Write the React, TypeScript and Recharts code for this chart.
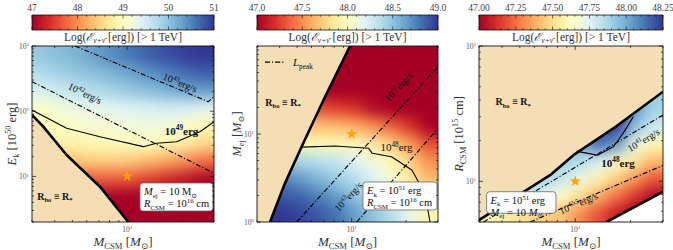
import React from 'react';
import { ComposedChart, XAxis, YAxis, Scatter, Line, Area, ReferenceArea, ReferenceDot, Symbols } from 'recharts';

const SERIF = "'Liberation Serif','DejaVu Serif',serif";
const CHART_H = 250;
const M_TOP = 46;
const M_BOTTOM = 28;
const WHEAT = '#f5deb3';
const RDYLBU = ['#a50026', '#d73027', '#f46d43', '#fdae61', '#fee090', '#ffffbf', '#e0f3f8', '#abd9e9', '#74add1', '#4575b4', '#313695'];

// ---------- shared x axis (M_CSM) ----------
const MCSM_DOMAIN = [3, 30];
const MCSM_TICKS = [3, 4, 5, 6, 7, 8, 9, 10, 20, 30];
const MCSM_LABELED = [10];
const HEAT_X = [3.37, 4.24, 5.34, 6.72, 8.46, 10.65, 13.4, 16.9, 21.3, 26.8];

// ---------- panel 1 : E_k vs M_CSM ----------
const EK_DOMAIN = [2, 1000];
const EK_TICKS = [2, 3, 4, 5, 6, 7, 8, 9, 10, 20, 30, 40, 50, 60, 70, 80, 90, 100, 200, 300, 400, 500, 600, 700, 800, 900, 1000];
const EK_LABELED = [10, 100, 1000];
const EK_HEAT_Y = [2.73, 5.08, 9.46, 17.6, 32.8, 61.1, 113.8, 211.8, 394.5, 734.5];
const EK_HEAT = [
  [46.8, 46.8, 46.8, 46.8, 46.8, 46.8, 46.8, 46.8, 46.8, 46.8],
  [47.1, 47.1, 47.05, 47.0, 46.95, 46.9, 46.85, 46.8, 46.8, 46.8],
  [47.65, 47.65, 47.7, 47.7, 47.7, 47.65, 47.5, 47.35, 47.2, 47.05],
  [48.35, 48.35, 48.4, 48.45, 48.45, 48.4, 48.3, 48.15, 48.0, 47.8],
  [48.75, 48.8, 48.85, 48.9, 48.95, 48.97, 48.97, 48.9, 48.75, 48.55],
  [48.9, 49.0, 49.08, 49.12, 49.15, 49.18, 49.2, 49.18, 49.08, 48.92],
  [49.02, 49.15, 49.25, 49.3, 49.35, 49.4, 49.45, 49.5, 49.45, 49.35],
  [49.45, 49.55, 49.65, 49.75, 49.85, 49.95, 50.05, 50.15, 50.25, 50.3],
  [49.75, 49.85, 49.95, 50.05, 50.15, 50.27, 50.4, 50.52, 50.65, 50.75],
  [49.95, 50.05, 50.15, 50.3, 50.45, 50.6, 50.75, 50.85, 50.95, 51.0],
];
const EK_BOUNDARY = [[3, 87.5], [3.46, 58], [4.65, 21.3], [7.09, 6.96], [10.14, 2]];
const EK_CONTOUR_49 = [[3, 104], [4.65, 54.7], [7.09, 40.6], [12.27, 28.6], [14.5, 32.2], [18.7, 34.1], [25.1, 48.5], [30, 69]];
const EK_LPEAK_43 = [[5.17, 1000], [27.9, 140], [30, 167]];
const EK_LPEAK_42 = [[3, 284], [30, 11.2]];
const EK_BOX = { x1: 11.76, x2: 29.6, y1: 2.95, y2: 7.93 };

// ---------- panel 2 : M_ej vs M_CSM ----------
const MEJ_DOMAIN = [1, 100];
const MEJ_TICKS = [1, 2, 3, 4, 5, 6, 7, 8, 9, 10, 20, 30, 40, 50, 60, 70, 80, 90, 100];
const MEJ_LABELED = [1, 10];
const MEJ_HEAT_Y = [1.26, 2.0, 3.16, 5.01, 7.94, 12.6, 19.95, 31.6, 50.1, 79.4];
const MEJ_HEAT = [
  [49.0, 49.0, 48.95, 48.9, 48.8, 48.65, 48.5, 48.35, 48.15, 47.95],
  [48.9, 48.9, 48.85, 48.75, 48.65, 48.5, 48.35, 48.2, 48.0, 47.8],
  [48.75, 48.75, 48.65, 48.55, 48.45, 48.35, 48.2, 48.05, 47.85, 47.65],
  [48.5, 48.45, 48.4, 48.35, 48.3, 48.2, 48.08, 47.95, 47.75, 47.5],
  [48.0, 48.0, 47.97, 47.97, 47.96, 47.95, 47.85, 47.72, 47.55, 47.3],
  [47.7, 47.7, 47.7, 47.68, 47.65, 47.6, 47.5, 47.35, 47.2, 47.0],
  [47.4, 47.4, 47.35, 47.3, 47.25, 47.2, 47.05, 46.95, 46.85, 46.8],
  [47.0, 47.0, 47.0, 46.95, 46.9, 46.85, 46.8, 46.8, 46.8, 46.8],
  [46.8, 46.8, 46.8, 46.8, 46.8, 46.8, 46.8, 46.8, 46.8, 46.8],
  [46.8, 46.8, 46.8, 46.8, 46.8, 46.8, 46.8, 46.8, 46.8, 46.8],
];
const MEJ_WHEAT = [[3, 1], [3.54, 1], [4.28, 2.75], [5.3, 7.2], [7.13, 26.5], [9.8, 100]];
const MEJ_BOUNDARY = [[3.54, 1], [4.28, 2.75], [5.3, 7.2], [7.13, 26.5], [9.8, 100]];
const MEJ_CONTOUR_48 = [[5.3, 7.1], [8.1, 7.3], [12.4, 6.88], [13.0, 6.03], [16.6, 5.52], [21.5, 3.9], [25.4, 2.12], [27.1, 1]];
const MEJ_LPEAK_A = [[4.97, 1], [30, 58.2]];
const MEJ_LPEAK_B = [[10.67, 1], [30, 11.6]];
const MEJ_BOX = { x1: 11.55, x2: 29.6, y1: 1.37, y2: 2.85 };

// ---------- panel 3 : R_CSM vs M_CSM ----------
const RCSM_DOMAIN = [5, 100];
const RCSM_TICKS = [5, 6, 7, 8, 9, 10, 20, 30, 40, 50, 60, 70, 80, 90, 100];
const RCSM_LABELED = [10, 100];
const RCSM_HEAT_Y = [5.81, 7.84, 10.58, 14.27, 19.26, 25.98, 35.06, 47.3, 63.8, 86.1];
const RCSM_HEAT = [
  [47.6, 47.55, 47.5, 47.45, 47.43, 47.31, 47.19, 47.07, 46.94, 46.82],
  [47.9, 47.9, 47.85, 47.75, 47.63, 47.5, 47.38, 47.26, 47.14, 47.02],
  [47.9, 47.9, 47.9, 47.87, 47.82, 47.7, 47.58, 47.46, 47.33, 47.21],
  [47.9, 47.9, 47.9, 47.9, 47.9, 47.86, 47.77, 47.65, 47.53, 47.41],
  [47.9, 47.9, 47.9, 47.9, 47.95, 47.98, 48.15, 48.05, 47.72, 47.6],
  [47.9, 47.9, 47.9, 47.9, 47.95, 48.0, 48.2, 48.3, 47.95, 47.8],
  [47.9, 47.9, 47.9, 47.9, 47.95, 48.0, 48.2, 48.3, 48.05, 47.89],
  [47.9, 47.9, 47.9, 47.9, 47.95, 48.0, 48.2, 48.3, 48.05, 47.9],
  [47.9, 47.9, 47.9, 47.9, 47.95, 48.0, 48.2, 48.3, 48.05, 47.9],
  [47.9, 47.9, 47.9, 47.9, 47.95, 48.0, 48.2, 48.3, 48.05, 47.9],
];
const RCSM_UPPER = [[3, 5.17], [7.3, 11.1], [9.77, 15.6], [16.8, 25.6], [30, 45.9]];
const RCSM_LOWER = [[14.8, 5], [30, 8.37]];
const RCSM_CONTOUR_48 = [[10.2, 16.7], [10.6, 16.5], [13.2, 15.6], [16.1, 18.0], [18.2, 22.6], [20.7, 30.0]];
const RCSM_LPEAK_41 = [[3.17, 5], [30, 30.9]];
const RCSM_LPEAK_425 = [[5.68, 5], [30, 13.1]];
const RCSM_BOX = { x1: 3.3, x2: 7.86, y1: 5.8, y2: 8.37 };

// ---------- colour bars ----------
const CB1_MAJOR = [47, 48, 49, 50, 51];
const CB2_MAJOR = [47.0, 47.5, 48.0, 48.5, 49.0];
const CB3_MAJOR = [47.0, 47.25, 47.5, 47.75, 48.0, 48.25];

type Seg = { t: string; s?: 'sup' | 'sub'; i?: boolean; b?: boolean };
const sup = (t: string): Seg => ({ t, s: 'sup' });
const sub = (t: string, i = false): Seg => ({ t, s: 'sub', i });

const P1_TEXTS = [
  { x: 19.5, y: 274, rot: 22, size: 10, bold: false, segs: [{ t: '10' }, sup('43'), { t: 'erg/s' }] },
  { x: 5.86, y: 188, rot: 26, size: 10, bold: false, segs: [{ t: '10' }, sup('42'), { t: 'erg/s' }] },
  { x: 19.9, y: 50.3, rot: 0, size: 11, bold: true, segs: [{ t: '10' }, sup('49'), { t: 'erg' }] },
  { x: 4.01, y: 5.0, rot: 0, size: 10, bold: true, segs: [{ t: 'R' }, sub('bo'), { t: ' ≡ R' }, sub('*')] },
];
const P2_TEXTS = [
  { x: 18.1, y: 34.5, rot: -47, size: 10, bold: false, segs: [{ t: '10' }, sup('42'), { t: 'erg/s' }] },
  { x: 9.59, y: 1.94, rot: -47, size: 10, bold: false, segs: [{ t: '10' }, sup('43'), { t: 'erg/s' }] },
  { x: 17.7, y: 7.06, rot: 0, size: 11, bold: false, segs: [{ t: '10' }, sup('48'), { t: 'erg' }] },
  { x: 4.18, y: 23.1, rot: 0, size: 10, bold: true, segs: [{ t: 'R' }, sub('bo'), { t: ' ≡ R' }, sub('*')] },
];
const P3_TEXTS = [
  { x: 23.5, y: 20.2, rot: -31, size: 10, bold: false, segs: [{ t: '10' }, sup('41'), { t: 'erg/s' }] },
  { x: 10.4, y: 6.87, rot: -23, size: 10, bold: false, segs: [{ t: '10' }, sup('42.5'), { t: 'erg/s' }] },
  { x: 17.1, y: 13.7, rot: 0, size: 11, bold: true, segs: [{ t: '10' }, sup('48'), { t: 'erg' }] },
  { x: 4.6, y: 38.7, rot: 0, size: 10, bold: true, segs: [{ t: 'R' }, sub('bo'), { t: ' ≡ R' }, sub('*')] },
];

const MSUN_TITLE: Seg[] = [{ t: 'M', i: true }, sub('CSM'), { t: ' [' }, { t: 'M', i: true }, sub('⊙'), { t: ']' }];
const EK_TITLE: Seg[] = [{ t: 'E', i: true }, sub('k'), { t: ' [10' }, sup('50'), { t: ' erg]' }];
const MEJ_TITLE: Seg[] = [{ t: 'M', i: true }, sub('ej'), { t: ' [' }, { t: 'M', i: true }, sub('⊙'), { t: ']' }];
const RCSM_TITLE: Seg[] = [{ t: 'R', i: true }, sub('CSM'), { t: ' [10' }, sup('15'), { t: ' cm]' }];
const CB_TITLE: Seg[] = [{ t: 'Log(' }, { t: 'ℰ', i: true }, sub('ν+ν̄', true), { t: ' [erg]) [> 1 TeV]' }];

const LINE_MEJ: Seg[] = [{ t: 'M', i: true }, sub('ej'), { t: ' = 10 M' }, sub('⊙')];
const LINE_MEJ_I: Seg[] = [{ t: 'M', i: true }, sub('ej'), { t: ' = 10 ' }, { t: 'M', i: true }, sub('⊙')];
const LINE_RCSM: Seg[] = [{ t: 'R', i: true }, sub('CSM'), { t: ' = 10' }, sup('16'), { t: ' cm' }];
const LINE_EK: Seg[] = [{ t: 'E', i: true }, sub('k'), { t: ' = 10' }, sup('51'), { t: ' erg' }];

// ---------- helpers ----------
function rich(segs: Seg[], size: number) {
  let cur = 0;
  return segs.map((sg, k) => {
    const target = sg.s === 'sup' ? -0.38 * size : sg.s === 'sub' ? 0.25 * size : 0;
    const dy = target - cur;
    cur = target;
    const p: any = { key: k, dy, fontSize: sg.s ? size * 0.66 : size };
    if (sg.i) p.fontStyle = 'italic';
    if (sg.b) p.fontWeight = 'bold';
    return <tspan {...p}>{sg.t}</tspan>;
  });
}

function hexRgb(h: string) {
  return [parseInt(h.slice(1, 3), 16), parseInt(h.slice(3, 5), 16), parseInt(h.slice(5, 7), 16)];
}
function cmap(v: number, lo: number, hi: number) {
  let t = (v - lo) / (hi - lo);
  t = Math.max(0, Math.min(1, t));
  const f = t * 10;
  const i = Math.min(9, Math.floor(f));
  const r = f - i;
  const a = hexRgb(RDYLBU[i]);
  const b = hexRgb(RDYLBU[i + 1]);
  return `rgb(${a.map((c, k) => Math.round(c + (b[k] - c) * r)).join(',')})`;
}
function pts(arr: number[][]) {
  return arr.map(([x, y]) => ({ x, y }));
}
function subdivide(majors: number[], n: number) {
  const out: number[] = [];
  for (let k = 0; k < majors.length - 1; k++) {
    for (let j = 0; j < n; j++) out.push(+(majors[k] + ((majors[k + 1] - majors[k]) * j) / n).toFixed(4));
  }
  out.push(majors[majors.length - 1]);
  return out;
}
function cells(xs: number[], ys: number[], grid: number[][]) {
  const out: any[] = [];
  ys.forEach((y, j) => xs.forEach((x, i) => out.push({ x, y, v: grid[j][i] })));
  return out;
}
const isIn = (arr: number[], v: number) => arr.some((m) => Math.abs(m - v) < 1e-6);
const expLabel = (v: number): Seg[] => [{ t: '10' }, sup(String(Math.round(Math.log10(v))))];

const makeXTick = (labeled: number[], side: 'b' | 't') => (props: any) => {
  const { x, y, payload } = props;
  const major = isIn(labeled, payload.value);
  const len = major ? 4 : 2;
  const dir = side === 'b' ? -1 : 1;
  return (
    <g>
      <line x1={x} y1={y} x2={x} y2={y + dir * len} stroke="#111" strokeWidth={0.7} />
      {side === 'b' && major && (
        <text x={x} y={y + 10} textAnchor="middle" fontFamily={SERIF} fill="#555">
          {rich(expLabel(payload.value), 7.5)}
        </text>
      )}
    </g>
  );
};
const makeYTick = (labeled: number[], side: 'l' | 'r') => (props: any) => {
  const { x, y, payload } = props;
  const major = isIn(labeled, payload.value);
  const len = major ? 4 : 2;
  const dir = side === 'l' ? 1 : -1;
  return (
    <g>
      <line x1={x} y1={y} x2={x + dir * len} y2={y} stroke="#111" strokeWidth={0.7} />
      {side === 'l' && major && (
        <text x={x - 3} y={y + 3} textAnchor="end" fontFamily={SERIF} fill="#555">
          {rich(expLabel(payload.value), 7.5)}
        </text>
      )}
    </g>
  );
};

const textShape = (segs: Seg[], size: number, rot: number, bold: boolean) => (p: any) => (
  <text
    x={p.cx}
    y={p.cy + size * 0.35}
    textAnchor="middle"
    fontFamily={SERIF}
    fontWeight={bold ? 'bold' : 'normal'}
    fill="#111"
    transform={rot ? `rotate(${rot} ${p.cx} ${p.cy})` : undefined}
  >
    {rich(segs, size)}
  </text>
);

const boxShape = (l1: Seg[], l2: Seg[]) => (p: any) => (
  <g>
    <rect x={p.x} y={p.y} width={p.width} height={p.height} rx={3} fill="#fff" stroke="#666" strokeWidth={0.8} />
    <text x={p.x + 4} y={p.y + 12} fontFamily={SERIF} fill="#111">{rich(l1, 10.5)}</text>
    <text x={p.x + 4} y={p.y + 24} fontFamily={SERIF} fill="#111">{rich(l2, 10.5)}</text>
  </g>
);

const starShape = (p: any) => <Symbols cx={p.cx} cy={p.cy} type="star" size={38} fill="#ffa000" stroke="none" />;

const legendShape = (p: any) => (
  <g>
    <line x1={p.cx} y1={p.cy} x2={p.cx + 20} y2={p.cy} stroke="#000" strokeWidth={1.2} strokeDasharray="5 2 1.2 2" />
    <text x={p.cx + 28} y={p.cy + 4} fontFamily={SERIF} fill="#111">{rich([{ t: 'L', i: true }, sub('peak')], 11)}</text>
  </g>
);

// ---------- panel configuration ----------
const PANELS = [
  {
    left: 0, width: 224, mLeft: 32, mRight: 10,
    yDomain: EK_DOMAIN, yTicks: EK_TICKS, yLabeled: EK_LABELED, yTitle: EK_TITLE,
    heatY: EK_HEAT_Y, heat: EK_HEAT, cbMajor: CB1_MAJOR, cbDigits: 0,
  },
  {
    left: 224, width: 224, mLeft: 33, mRight: 10,
    yDomain: MEJ_DOMAIN, yTicks: MEJ_TICKS, yLabeled: MEJ_LABELED, yTitle: MEJ_TITLE,
    heatY: MEJ_HEAT_Y, heat: MEJ_HEAT, cbMajor: CB2_MAJOR, cbDigits: 1,
  },
  {
    left: 448, width: 225, mLeft: 31, mRight: 10,
    yDomain: RCSM_DOMAIN, yTicks: RCSM_TICKS, yLabeled: RCSM_LABELED, yTitle: RCSM_TITLE,
    heatY: RCSM_HEAT_Y, heat: RCSM_HEAT, cbMajor: CB3_MAJOR, cbDigits: 2,
  },
];

const lineProps = { type: 'linear' as const, dataKey: 'y', dot: false, isAnimationActive: false, strokeLinejoin: 'round' as const };

function shapesFor(i: number) {
  if (i === 0) {
    return [
      <Area key="w" {...lineProps} data={pts(EK_BOUNDARY)} baseValue={EK_DOMAIN[0]} fill={WHEAT} fillOpacity={1} stroke="none" />,
      <Line key="la" {...lineProps} data={pts(EK_LPEAK_43)} stroke="#000" strokeWidth={1.1} strokeDasharray="5 2 1.2 2" />,
      <Line key="lb" {...lineProps} data={pts(EK_LPEAK_42)} stroke="#000" strokeWidth={1.1} strokeDasharray="5 2 1.2 2" />,
      <Line key="c" {...lineProps} data={pts(EK_CONTOUR_49)} stroke="#000" strokeWidth={1.1} />,
      <Line key="b" {...lineProps} data={pts(EK_BOUNDARY)} stroke="#000" strokeWidth={2.6} />,
    ];
  }
  if (i === 1) {
    return [
      <Area key="w" {...lineProps} data={pts(MEJ_WHEAT)} baseValue={MEJ_DOMAIN[1]} fill={WHEAT} fillOpacity={1} stroke="none" />,
      <Line key="la" {...lineProps} data={pts(MEJ_LPEAK_A)} stroke="#000" strokeWidth={1.1} strokeDasharray="5 2 1.2 2" />,
      <Line key="lb" {...lineProps} data={pts(MEJ_LPEAK_B)} stroke="#000" strokeWidth={1.1} strokeDasharray="5 2 1.2 2" />,
      <Line key="c" {...lineProps} data={pts(MEJ_CONTOUR_48)} stroke="#000" strokeWidth={1.1} />,
      <Line key="b" {...lineProps} data={pts(MEJ_BOUNDARY)} stroke="#000" strokeWidth={2.6} />,
    ];
  }
  return [
    <Area key="w" {...lineProps} data={pts(RCSM_UPPER)} baseValue={RCSM_DOMAIN[1]} fill={WHEAT} fillOpacity={1} stroke="none" />,
    <Area key="wh" {...lineProps} data={pts(RCSM_LOWER)} baseValue={RCSM_DOMAIN[0]} fill="#fff" fillOpacity={1} stroke="none" />,
    <Line key="la" {...lineProps} data={pts(RCSM_LPEAK_41)} stroke="#000" strokeWidth={1.1} strokeDasharray="5 2 1.2 2" />,
    <Line key="lb" {...lineProps} data={pts(RCSM_LPEAK_425)} stroke="#000" strokeWidth={1.1} strokeDasharray="5 2 1.2 2" />,
    <Line key="c" {...lineProps} data={pts(RCSM_CONTOUR_48)} stroke="#000" strokeWidth={1.1} />,
    <Line key="b" {...lineProps} data={pts(RCSM_UPPER)} stroke="#000" strokeWidth={2.6} />,
    <Line key="b2" {...lineProps} data={pts(RCSM_LOWER)} stroke="#000" strokeWidth={2.6} />,
  ];
}

function textsFor(i: number) {
  const texts = i === 0 ? P1_TEXTS : i === 1 ? P2_TEXTS : P3_TEXTS;
  const box = i === 0 ? EK_BOX : i === 1 ? MEJ_BOX : RCSM_BOX;
  const l1 = i === 0 ? LINE_MEJ : LINE_EK;
  const l2 = i === 2 ? LINE_MEJ_I : LINE_RCSM;
  const out: any[] = texts.map((t, k) => (
    <ReferenceDot key={'t' + k} x={t.x} y={t.y} r={3} ifOverflow="visible" shape={textShape(t.segs, t.size, t.rot, t.bold)} />
  ));
  out.push(<ReferenceDot key="star" x={10} y={10} r={5} ifOverflow="visible" shape={starShape} />);
  out.push(<ReferenceArea key="box" x1={box.x1} x2={box.x2} y1={box.y1} y2={box.y2} ifOverflow="visible" shape={boxShape(l1, l2)} />);
  if (i === 1) out.push(<ReferenceDot key="leg" x={3.32} y={65.6} r={3} ifOverflow="visible" shape={legendShape} />);
  return out;
}

function Panel({ p, i }: { p: any; i: number }) {
  const margin = { top: M_TOP, bottom: M_BOTTOM, left: p.mLeft, right: p.mRight };
  // axes occupy 1px each, so their chart margins are reduced by 1px
  const axMargin = { top: M_TOP - 1, bottom: M_BOTTOM - 1, left: p.mLeft - 1, right: p.mRight - 1 };
  const plotW = p.width - p.mLeft - p.mRight;
  const plotH = CHART_H - M_TOP - M_BOTTOM;
  const cw = plotW / HEAT_X.length + 1.5;
  const ch = plotH / p.heatY.length + 1.5;
  const lo = p.cbMajor[0];
  const hi = p.cbMajor[p.cbMajor.length - 1];
  const heatCells = cells(HEAT_X, p.heatY, p.heat);
  const corners = [{ x: MCSM_DOMAIN[0], y: p.yDomain[0] }, { x: MCSM_DOMAIN[1], y: p.yDomain[1] }];
  const cbTicks = subdivide(p.cbMajor, 5);
  const cbMargin = { top: 15, bottom: 16, left: p.mLeft, right: p.mRight };
  const cbAxMargin = { top: 14, bottom: 15, left: p.mLeft, right: p.mRight };
  const cbCorners = [{ x: lo, y: 0 }, { x: hi, y: 1 }];
  const pos = (z: number): React.CSSProperties => ({ position: 'absolute', left: p.left, top: 0, zIndex: z });
  const hx = { type: 'number' as const, dataKey: 'x', scale: 'log' as const, domain: MCSM_DOMAIN, allowDataOverflow: true };
  const hy = { type: 'number' as const, dataKey: 'y', scale: 'log' as const, domain: p.yDomain, allowDataOverflow: true };
  const axisLine = { stroke: '#111', strokeWidth: 0.9 };

  return (
    <>
      {/* colour bar gradient */}
      <div style={pos(1)}>
        <ComposedChart width={p.width} height={46} margin={cbMargin}>
          <defs>
            <linearGradient id={`cbar${i}`} x1="0" y1="0" x2="1" y2="0">
              {RDYLBU.map((c, k) => (
                <stop key={k} offset={k / 10} stopColor={c} />
              ))}
            </linearGradient>
          </defs>
          <XAxis type="number" dataKey="x" domain={[lo, hi]} allowDataOverflow hide />
          <YAxis type="number" dataKey="y" domain={[0, 1]} allowDataOverflow hide />
          <Line {...lineProps} data={cbCorners} stroke="none" />
          <ReferenceArea x1={lo} x2={hi} y1={0} y2={1} fill={`url(#cbar${i})`} fillOpacity={1} stroke="#111" strokeWidth={0.8} ifOverflow="visible" />
        </ComposedChart>
      </div>
      {/* colour bar ticks */}
      <div style={pos(2)}>
        <ComposedChart width={p.width} height={46} margin={cbAxMargin}>
          <XAxis xAxisId="t" orientation="top" type="number" dataKey="x" domain={[lo, hi]} allowDataOverflow ticks={cbTicks} interval={0}
            height={1} tickSize={0} tickMargin={0} tickLine={false} axisLine={false}
            tick={(tp: any) => {
              const major = isIn(p.cbMajor, tp.payload.value);
              return (
                <g>
                  <line x1={tp.x} y1={tp.y} x2={tp.x} y2={tp.y + (major ? 3.5 : 1.8)} stroke="#111" strokeWidth={0.6} />
                  {major && (
                    <text x={tp.x} y={tp.y - 4} textAnchor="middle" fontFamily={SERIF} fontSize={9.5} fill="#444">
                      {Number(tp.payload.value).toFixed(p.cbDigits)}
                    </text>
                  )}
                </g>
              );
            }}
          />
          <XAxis xAxisId="b" orientation="bottom" type="number" dataKey="x" domain={[lo, hi]} allowDataOverflow ticks={cbTicks} interval={0}
            height={1} tickSize={0} tickMargin={0} tickLine={false} axisLine={false}
            tick={(tp: any) => {
              const major = isIn(p.cbMajor, tp.payload.value);
              return <line x1={tp.x} y1={tp.y} x2={tp.x} y2={tp.y - (major ? 3.5 : 1.8)} stroke="#111" strokeWidth={0.6} />;
            }}
            label={{
              content: (lp: any) => (
                <text x={lp.viewBox.x + lp.viewBox.width / 2} y={lp.viewBox.y + 10.5} textAnchor="middle" fontFamily={SERIF} fill="#333">
                  {rich(CB_TITLE, 11.5)}
                </text>
              ),
            }}
          />
          <YAxis type="number" dataKey="y" domain={[0, 1]} allowDataOverflow hide />
          <Line xAxisId="t" {...lineProps} data={cbCorners} stroke="none" />
          <Line xAxisId="b" {...lineProps} data={cbCorners} stroke="none" />
        </ComposedChart>
      </div>
      {/* heat map */}
      <div className="heat" style={pos(3)}>
        <ComposedChart width={p.width} height={CHART_H} margin={margin}>
          <XAxis {...hx} hide />
          <YAxis {...hy} hide />
          <Scatter
            data={heatCells}
            dataKey="y"
            isAnimationActive={false}
            shape={(s: any) => (
              <rect x={s.cx - cw / 2} y={s.cy - ch / 2} width={cw} height={ch} fill={cmap(s.payload.v, lo, hi)} />
            )}
          />
        </ComposedChart>
      </div>
      {/* regions and curves */}
      <div style={pos(4)}>
        <ComposedChart width={p.width} height={CHART_H} margin={margin}>
          <XAxis {...hx} hide />
          <YAxis {...hy} hide />
          {shapesFor(i)}
        </ComposedChart>
      </div>
      {/* annotations */}
      <div style={pos(5)}>
        <ComposedChart width={p.width} height={CHART_H} margin={margin}>
          <XAxis {...hx} hide />
          <YAxis {...hy} hide />
          <Line {...lineProps} data={corners} stroke="none" />
          {textsFor(i)}
        </ComposedChart>
      </div>
      {/* axes, ticks, frame */}
      <div style={pos(6)}>
        <ComposedChart width={p.width} height={CHART_H} margin={axMargin}>
          <XAxis xAxisId="b" orientation="bottom" {...hx} ticks={MCSM_TICKS} interval={0} height={1} tickSize={0} tickMargin={0}
            tickLine={false} axisLine={axisLine} tick={makeXTick(MCSM_LABELED, 'b')}
            label={{
              content: (lp: any) => (
                <text x={lp.viewBox.x + lp.viewBox.width / 2} y={lp.viewBox.y + 24} textAnchor="middle" fontFamily={SERIF} fill="#333">
                  {rich(MSUN_TITLE, 13)}
                </text>
              ),
            }}
          />
          <XAxis xAxisId="t" orientation="top" {...hx} ticks={MCSM_TICKS} interval={0} height={1} tickSize={0} tickMargin={0}
            tickLine={false} axisLine={axisLine} tick={makeXTick(MCSM_LABELED, 't')} />
          <YAxis yAxisId="l" orientation="left" {...hy} ticks={p.yTicks} interval={0} width={1} tickSize={0} tickMargin={0}
            tickLine={false} axisLine={axisLine} tick={makeYTick(p.yLabeled, 'l')}
            label={{
              content: (lp: any) => {
                const cx = lp.viewBox.x + lp.viewBox.width - 16;
                const cy = lp.viewBox.y + lp.viewBox.height / 2;
                return (
                  <text x={cx} y={cy} textAnchor="middle" fontFamily={SERIF} fill="#333" transform={`rotate(-90 ${cx} ${cy})`}>
                    {rich(p.yTitle, 12.5)}
                  </text>
                );
              },
            }}
          />
          <YAxis yAxisId="r" orientation="right" {...hy} ticks={p.yTicks} interval={0} width={1} tickSize={0} tickMargin={0}
            tickLine={false} axisLine={axisLine} tick={makeYTick(p.yLabeled, 'r')} />
          <Line xAxisId="b" yAxisId="l" {...lineProps} data={corners} stroke="none" />
          <Line xAxisId="t" yAxisId="r" {...lineProps} data={corners} stroke="none" />
        </ComposedChart>
      </div>
    </>
  );
}

export default function App() {
  return (
    <div style={{ position: 'absolute', left: 0, top: 0, width: 673, height: 250, background: '#fff', overflow: 'hidden' }}>
      <style>{'.heat .recharts-scatter{filter:url(#hblur);}'}</style>
      <svg width={0} height={0} style={{ position: 'absolute' }}>
        <defs>
          <filter id="hblur" x="0" y="0" width="1" height="1" colorInterpolationFilters="sRGB">
            <feGaussianBlur stdDeviation="7" />
            <feComponentTransfer>
              <feFuncA type="table" tableValues="0 1 1 1 1 1 1 1 1 1 1" />
            </feComponentTransfer>
          </filter>
        </defs>
      </svg>
      {PANELS.map((p, i) => (
        <Panel key={i} p={p} i={i} />
      ))}
    </div>
  );
}
